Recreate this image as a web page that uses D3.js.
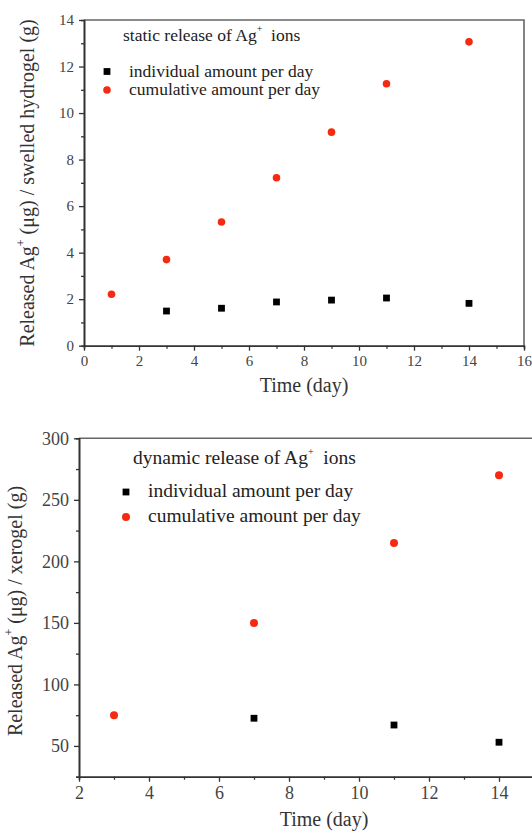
<!DOCTYPE html>
<html>
<head>
<meta charset="utf-8">
<script src="https://cdn.jsdelivr.net/npm/d3@7"></script>
<style>
  body { margin: 0; background: #fff; }
  svg { display: block; }
  svg text { font-family: "Liberation Serif", "Times New Roman", Times, serif !important; }
</style>
</head>
<body>
<div id="graph"></div>
<script>
var width = 532,
    height = 834

// static release (swelled hydrogel)
var staticDays = [1, 3, 5, 7, 9, 11, 14]
var staticCumulative = [2.21, 3.70, 5.32, 7.22, 9.18, 11.26, 13.06]
var staticIndDays = [3, 5, 7, 9, 11, 14]
var staticIndividual = [1.49, 1.61, 1.88, 1.96, 2.05, 1.82]
var staticXTicks = [0, 2, 4, 6, 8, 10, 12, 14, 16]
var staticYTicks = [0, 2, 4, 6, 8, 10, 12, 14]

// dynamic release (xerogel)
var dynamicDays = [3, 7, 11, 14]
var dynamicCumulative = [75, 150, 215, 270]
var dynamicIndDays = [7, 11, 14]
var dynamicIndividual = [72.5, 67, 53]
var dynamicXTicks = [2, 4, 6, 8, 10, 12, 14]   // 16 falls off the right edge
var dynamicYTicks = [50, 100, 150, 200, 250, 300]

var legendLabels = ['individual amount per day', 'cumulative amount per day']

var svg = d3.select('#graph')
  .append('svg')
  .attr('width', width)
  .attr('height', height)

function drawPanel(p) {
  var x = d3.scaleLinear().domain(p.xDomain).range([p.left, p.right])
  var y = d3.scaleLinear().domain(p.yDomain).range([p.bottom, p.top])
  var g = svg.append('g')

  // frame top + right
  g.append('path')
    .attr('d', 'M' + p.left + ',' + p.top + 'H' + p.right + 'V' + p.bottom)
    .attr('fill', 'none').attr('stroke', '#666').attr('stroke-width', 1.6)

  // minor ticks
  g.append('g').attr('transform', 'translate(' + p.left + ',0)')
    .call(d3.axisLeft(y).tickValues(p.yMinor).tickSize(3).tickFormat(''))
  g.append('g').attr('transform', 'translate(0,' + p.bottom + ')')
    .call(d3.axisBottom(x).tickValues(p.xMinor).tickSize(3).tickFormat(''))

  g.append('g').attr('transform', 'translate(' + p.left + ',0)')
    .call(d3.axisLeft(y).tickValues(p.yTicks).tickSize(5).tickPadding(5).tickSizeOuter(0))
  g.append('g').attr('transform', 'translate(0,' + p.bottom + ')')
    .call(d3.axisBottom(x).tickValues(p.xTicks).tickSize(5).tickPadding(5).tickSizeOuter(0))

  g.selectAll('g').attr('font-size', p.tickFont)
  g.selectAll('.domain').attr('stroke', '#333').attr('stroke-width', 1.6)
  g.selectAll('.tick line').attr('stroke', '#333').attr('stroke-width', 1.3)
  g.selectAll('.tick text').attr('fill', '#444')

  // axis titles
  g.append('text')
    .attr('x', (p.left + Math.min(p.right, 569)) / 2).attr('y', p.xTitleY)
    .attr('text-anchor', 'middle').attr('font-size', 20).attr('fill', '#333')
    .text('Time (day)')

  var yt = g.append('text')
    .attr('transform', 'translate(' + p.yTitleX + ',' + p.yTitleY + ') rotate(-90)')
    .attr('text-anchor', 'middle').attr('font-size', 20).attr('fill', '#333')
  yt.append('tspan').text('Released Ag')
  yt.append('tspan').attr('font-size', 12).attr('dy', -9).text('+')
  yt.append('tspan').attr('dy', 9).text(' (\u03bcg) / ' + p.yTitleTail)

  // markers
  g.selectAll('rect.ind').data(p.indDays)
    .join('rect').attr('class', 'ind')
    .attr('x', function(d) { return x(d) - 3.4 })
    .attr('y', function(d, i) { return y(p.individual[i]) - 3.4 })
    .attr('width', 6.8).attr('height', 6.8)
    .attr('fill', '#000')

  g.selectAll('circle.cum').data(p.cumDays)
    .join('circle').attr('class', 'cum')
    .attr('cx', function(d) { return x(d) })
    .attr('cy', function(d, i) { return y(p.cumulative[i]) })
    .attr('r', p.r)
    .attr('fill', '#f52a10')

  // legend
  var lg = g.append('g').attr('font-size', p.legendFont).attr('fill', '#222')
  var lt = lg.append('text').attr('x', p.legX).attr('y', p.legY)
  lt.append('tspan').text(p.legendTitle + ' release of Ag')
  lt.append('tspan').attr('font-size', 10).attr('dy', -9).text('+')
  lt.append('tspan').attr('dy', 9).text('\u2002ions')

  lg.append('rect')
    .attr('x', p.markX - 3.4).attr('y', p.legY + p.legGap - 3.4)
    .attr('width', 6.8).attr('height', 6.8).attr('fill', '#000')
  lg.append('circle')
    .attr('cx', p.markX).attr('cy', p.legY + p.legGap + p.legStep)
    .attr('r', p.r).attr('fill', '#f52a10')
  legendLabels.forEach(function(t, i) {
    lg.append('text')
      .attr('x', p.textX).attr('y', p.legY + p.legGap + i * p.legStep + 5)
      .text(t)
  })
}

drawPanel({
  xDomain: [0, 16], yDomain: [0, 14],
  left: 84, right: 524, top: 20, bottom: 345.7,
  xTicks: staticXTicks, yTicks: staticYTicks,
  xMinor: d3.range(1, 16, 2), yMinor: d3.range(1, 14, 2),
  tickFont: 15,
  cumDays: staticDays, cumulative: staticCumulative,
  indDays: staticIndDays, individual: staticIndividual,
  r: 3.8,
  xTitleY: 392, yTitleX: 34, yTitleY: 183, yTitleTail: 'swelled hydrogel (g)',
  legendTitle: 'static', legendFont: 17.5,
  legX: 123, legY: 41, legGap: 30.5, legStep: 18.5, markX: 107, textX: 129
})

drawPanel({
  xDomain: [2, 16], yDomain: [25, 300],
  left: 79, right: 569, top: 438.3, bottom: 776.7,
  xTicks: dynamicXTicks, yTicks: dynamicYTicks,
  xMinor: d3.range(3, 16, 2), yMinor: d3.range(25, 300, 50),
  tickFont: 18,
  cumDays: dynamicDays, cumulative: dynamicCumulative,
  indDays: dynamicIndDays, individual: dynamicIndividual,
  r: 4,
  xTitleY: 826, yTitleX: 22, yTitleY: 611, yTitleTail: 'xerogel (g)',
  legendTitle: 'dynamic', legendFont: 19.5,
  legX: 133, legY: 464, legGap: 28, legStep: 25, markX: 126, textX: 148
})
</script>
</body>
</html>
